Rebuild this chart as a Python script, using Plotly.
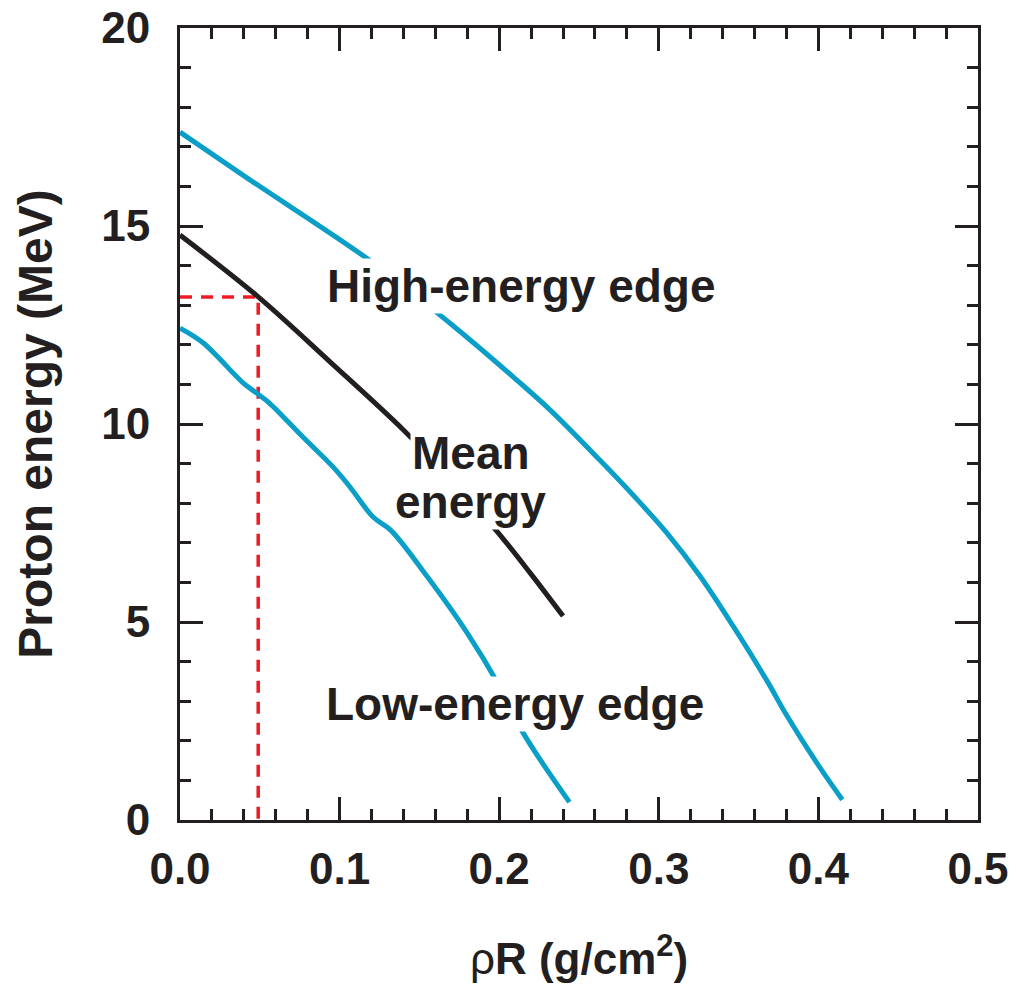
import plotly.graph_objects as go

# High-energy edge (cyan)
high_x = [0.0, 0.044, 0.121, 0.169, 0.211, 0.232, 0.263, 0.284, 0.305, 0.326, 0.347, 0.368, 0.380, 0.399, 0.415]
high_e = [17.37, 16.16, 14.07, 12.55, 11.11, 10.35, 9.09, 8.20, 7.25, 6.15, 4.87, 3.50, 2.65, 1.44, 0.51]

# Mean energy (black)
mean_x = [0.0, 0.049, 0.094, 0.140, 0.169, 0.199, 0.219, 0.240]
mean_e = [14.77, 13.21, 11.57, 9.85, 8.64, 7.27, 6.26, 5.15]

# Low-energy edge (cyan)
low_x = [0.0, 0.0144, 0.0395, 0.048, 0.056, 0.077, 0.096, 0.1065, 0.121, 0.132, 0.155, 0.180, 0.199, 0.215, 0.244]
low_e = [12.42, 12.05, 11.04, 10.78, 10.53, 9.67, 8.91, 8.41, 7.65, 7.32, 6.14, 4.72, 3.46, 2.20, 0.45]

# Red dashed guide (reading at rhoR ~0.049)
guide_x = [0.0, 0.049, 0.049]
guide_e = [13.21, 13.21, 0.0]

x_ticks = [0.0, 0.1, 0.2, 0.3, 0.4, 0.5]
y_ticks = [0, 5, 10, 15, 20]

CYAN = "#0A9FC8"
INK = "#231F20"
RED = "#ED1C24"
FONT = "Liberation Sans"

fig = go.Figure()
fig.add_trace(go.Scatter(x=guide_x, y=guide_e, mode="lines",
                         line=dict(color=RED, width=3.5, dash="12px,9px"), hoverinfo="skip"))
line_style = dict(width=5, shape="spline", smoothing=1.0)
fig.add_trace(go.Scatter(x=high_x, y=high_e, mode="lines", line=dict(color=CYAN, **line_style)))
fig.add_trace(go.Scatter(x=mean_x, y=mean_e, mode="lines", line=dict(color=INK, **line_style)))
fig.add_trace(go.Scatter(x=low_x, y=low_e, mode="lines", line=dict(color=CYAN, **line_style)))

labels = [
    ("High-energy edge", 0.2137, 13.48),
    ("Mean", 0.1823, 9.28),
    ("energy", 0.182, 8.03),
    ("Low-energy edge", 0.2099, 2.93),
]
for txt, xv, yv in labels:
    fig.add_annotation(x=xv, y=yv, xref="x", yref="y", text=txt, showarrow=False,
                       xanchor="center", yanchor="middle", bgcolor="white", borderpad=1,
                       font=dict(family=FONT, size=46, color=INK, weight="bold"))

fig.update_layout(
    width=1018, height=990,
    margin=dict(l=180, r=40, t=28, b=170),
    paper_bgcolor="white", plot_bgcolor="white",
    showlegend=False,
    font=dict(family=FONT, color=INK),
)
fig.update_xaxes(
    range=[0, 0.5], tickvals=x_ticks, ticktext=[f"{v:.1f}" for v in x_ticks],
    ticks="inside", ticklen=23, tickwidth=2.5, tickcolor=INK,
    minor=dict(dtick=0.02, ticks="inside", ticklen=11, tickwidth=2.5, tickcolor=INK, showgrid=False),
    showline=True, linewidth=3, linecolor=INK, mirror="ticks", showgrid=False, zeroline=False,
    automargin=False, ticklabeloverflow="allow",
    tickfont=dict(family=FONT, size=44, color=INK, weight="bold"), ticklabelstandoff=8,
    title=dict(text="ρ<b>R (g/cm<sup>2</sup>)</b>", font=dict(family=FONT, size=44, color=INK), standoff=52),
)
fig.update_yaxes(
    range=[0, 20], tickvals=y_ticks,
    ticks="inside", ticklen=23, tickwidth=2.5, tickcolor=INK,
    minor=dict(dtick=1, ticks="inside", ticklen=11, tickwidth=2.5, tickcolor=INK, showgrid=False),
    showline=True, linewidth=3, linecolor=INK, mirror="ticks", showgrid=False, zeroline=False,
    automargin=False, ticklabeloverflow="allow",
    tickfont=dict(family=FONT, size=44, color=INK, weight="bold"), ticklabelstandoff=18,
    title=dict(text="Proton energy (MeV)", font=dict(family=FONT, size=48, color=INK, weight="bold"), standoff=34),
)

# remove the default 8px page margin so the figure fills the window exactly
fig.write_html("out.html", config={"displayModeBar": False},
               post_script="document.body.style.margin='0';document.body.style.overflow='hidden';")
